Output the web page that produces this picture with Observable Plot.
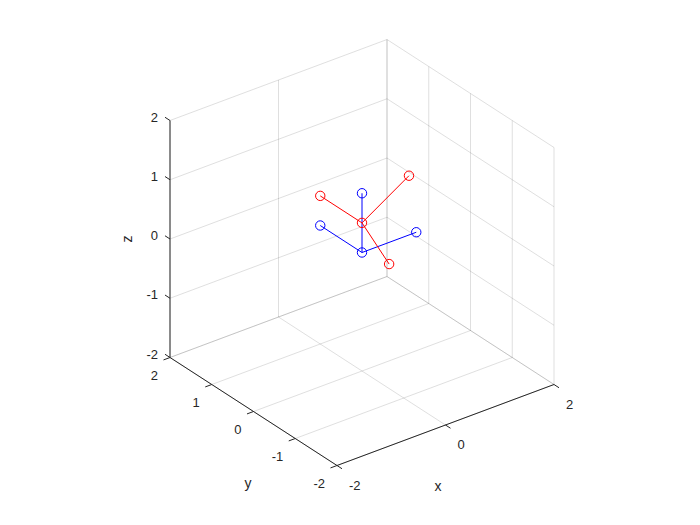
<!DOCTYPE html>
<html><head><meta charset="utf-8">
<script src="https://cdn.jsdelivr.net/npm/d3@7"></script>
<script src="https://cdn.jsdelivr.net/npm/@observablehq/plot@0.6"></script>
<style>html,body{margin:0;padding:0;background:#fff}</style>
</head><body><div id="chart"></div>
<script>
// ---- data ----
const xTicks = [-2, 0, 2];
const yTicks = [-2, -1, 0, 1, 2];
const zTicks = [-2, -1, 0, 1, 2];
const axisLimits = [-2, 2];
const axisTitles = ["x", "y", "z"];
// blue frame (base)
const baseOrigin = [0, 0, 0];
const baseTips = [[1, 0, 0], [0, 1, 0], [0, 0, 1]];
// red frame (rotated 60° about y, shifted up 0.5)
const rotOrigin = [0, 0, 0.5];
const rotTips = [[0.866, 0, 1.0], [0, 1, 0.5], [0.5, 0, -0.366]];

// ---- 3D -> 2D projection (screen vectors per data unit; u right, v up) ----
const UX = [54.25, 20.25], UY = [-41.75, 27], UZ = [0, 59.25];
const P = ([x, y, z]) => ({u: x*UX[0] + y*UY[0] + z*UZ[0], v: x*UX[1] + y*UY[1] + z*UZ[1]});
const seg = (a, b) => { const p = P(a), q = P(b); return {u1: p.u, v1: p.v, u2: q.u, v2: q.v}; };

const [lo, hi] = axisLimits;
const grid = [];
for (const y of yTicks) grid.push(seg([lo, y, lo], [hi, y, lo]));
for (const x of xTicks) grid.push(seg([x, lo, lo], [x, hi, lo]));
for (const x of xTicks) grid.push(seg([x, hi, lo], [x, hi, hi]));
for (const z of zTicks) grid.push(seg([lo, hi, z], [hi, hi, z]));
for (const y of yTicks) grid.push(seg([hi, y, lo], [hi, y, hi]));
for (const z of zTicks) grid.push(seg([hi, lo, z], [hi, hi, z]));

const axesLines = [seg([lo, lo, lo], [hi, lo, lo]), seg([lo, lo, lo], [lo, hi, lo]), seg([lo, hi, lo], [lo, hi, hi])];
const tl = 0.12;
const tickLines = [
  ...xTicks.map(x => seg([x, lo, lo], [x, lo - tl, lo])),
  ...yTicks.map(y => seg([lo, y, lo], [lo - tl, y, lo])),
  ...zTicks.map(z => seg([lo, hi, z], [lo, hi + tl, z]))
];
const xLab = xTicks.map(x => ({...P([x, lo, lo]), t: String(x)}));
const yLab = yTicks.map(y => ({...P([lo, y, lo]), t: String(y)}));
const zLab = zTicks.map(z => ({...P([lo, hi, z]), t: String(z)}));

const frameSegs = (o, tips) => tips.map(t => seg(o, t));
const framePts = (o, tips) => [o, ...tips].map(P);

const font = "'Liberation Sans', Arial, Helvetica, sans-serif";
const txt = "#262626";

const chart = Plot.plot({
  width: 700, height: 525,
  margin: 0,
  x: {domain: [-361.5, 338.5], range: [0, 700], axis: null},
  y: {domain: [252, -273], range: [0, 525], axis: null},
  style: {fontFamily: font, background: "#fff"},
  marks: [
    Plot.link(grid, {x1: "u1", y1: "v1", x2: "u2", y2: "v2", stroke: "#262626", strokeOpacity: 0.15, strokeWidth: 1}),
    Plot.link(axesLines, {x1: "u1", y1: "v1", x2: "u2", y2: "v2", stroke: "#262626", strokeWidth: 1}),
    Plot.link(tickLines, {x1: "u1", y1: "v1", x2: "u2", y2: "v2", stroke: "#262626", strokeWidth: 1}),
    Plot.text(xLab, {x: "u", y: "v", text: "t", textAnchor: "start", dx: 12, dy: 20, fontSize: 13, fill: txt}),
    Plot.text(yLab, {x: "u", y: "v", text: "t", textAnchor: "end", dx: -12, dy: 18, fontSize: 13, fill: txt}),
    Plot.text(zLab, {x: "u", y: "v", text: "t", textAnchor: "end", dx: -12, dy: -3, fontSize: 13, fill: txt}),
    Plot.text([{...P([0, lo, lo]), t: axisTitles[0]}], {x: "u", y: "v", text: "t", dx: -7.5, dy: 62, fontSize: 14, fill: txt}),
    Plot.text([{...P([lo, 0, lo]), t: axisTitles[1]}], {x: "u", y: "v", text: "t", dx: -5.5, dy: 72, fontSize: 14, fill: txt}),
    Plot.text([{...P([lo, hi, 0]), t: axisTitles[2]}], {x: "u", y: "v", text: "t", dx: -42, dy: 0, rotate: -90, fontSize: 14, fill: txt}),
    Plot.link(frameSegs(baseOrigin, baseTips), {x1: "u1", y1: "v1", x2: "u2", y2: "v2", stroke: "#0000ff", strokeWidth: 1}),
    Plot.dot(framePts(baseOrigin, baseTips), {x: "u", y: "v", r: 4.7, stroke: "#0000ff", fill: "none", strokeWidth: 1}),
    Plot.link(frameSegs(rotOrigin, rotTips), {x1: "u1", y1: "v1", x2: "u2", y2: "v2", stroke: "#ff0000", strokeWidth: 1}),
    Plot.dot(framePts(rotOrigin, rotTips), {x: "u", y: "v", r: 4.7, stroke: "#ff0000", fill: "none", strokeWidth: 1})
  ]
});
document.getElementById("chart").appendChild(chart);
</script>
</body></html>
